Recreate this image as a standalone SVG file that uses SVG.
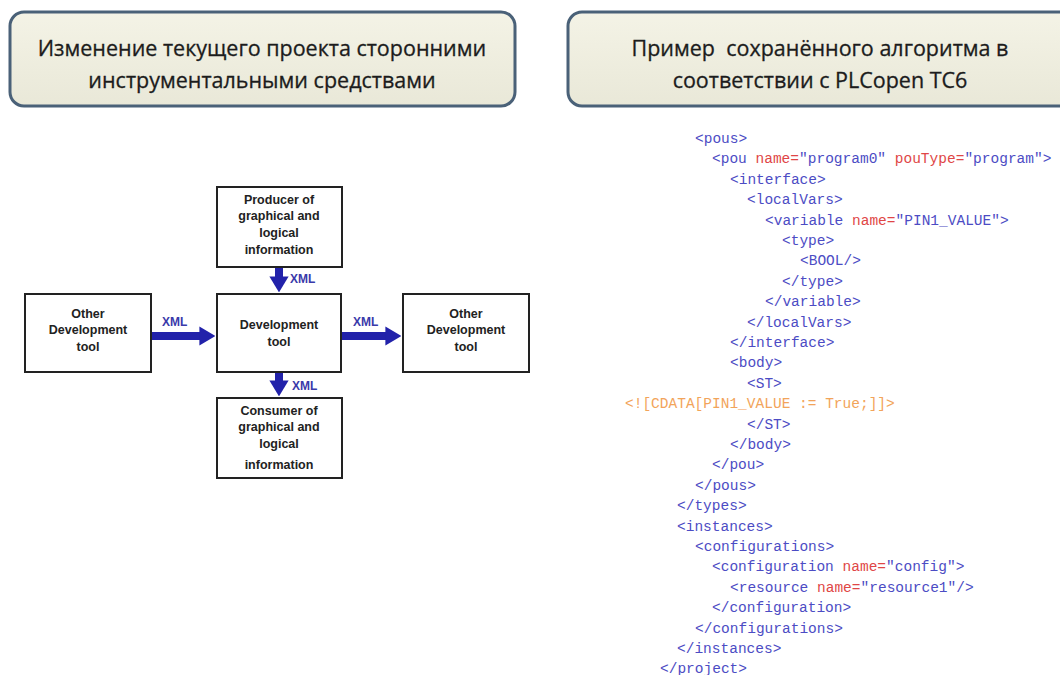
<svg xmlns="http://www.w3.org/2000/svg" width="1060" height="675" viewBox="0 0 1060 675">
<defs>
<linearGradient id="tg" x1="0" y1="0" x2="0" y2="1">
<stop offset="0" stop-color="#f4f3e6"/>
<stop offset="1" stop-color="#e9e8d8"/>
</linearGradient>
<marker id="ah" markerWidth="2" markerHeight="2.4" refX="0.2" refY="1.2" orient="auto" markerUnits="strokeWidth">
<path d="M0,0 L2,1.2 L0,2.4 Z" fill="#2222aa"/>
</marker>
</defs>
<style>
.title{fill:url(#tg);stroke:#4a6178;stroke-width:3}
.tt{font-family:"Open Sans","Liberation Sans",sans-serif;font-size:21.5px;fill:#1c1c1c;text-anchor:middle;stroke:#1c1c1c;stroke-width:0.3}
.box{fill:#fff;stroke:#222;stroke-width:2}
.bt{font-family:"Liberation Sans",Arial,sans-serif;font-weight:bold;font-size:12.5px;fill:#222;text-anchor:middle}
.arr{stroke:#2222aa;stroke-width:8;fill:none;marker-end:url(#ah)}
.xl{font-family:"Liberation Sans",Arial,sans-serif;font-weight:bold;font-size:12px;fill:#3a3aaa}
.code{font-family:"Liberation Mono","Courier New",monospace;font-size:14.5px;fill:#4c4cc4;white-space:pre}
.at{fill:#e04646}
.cd{fill:#f2a45a}
</style>
<rect width="1060" height="675" fill="#fff"/>
<g id="title-left">
<rect class="title" x="10" y="12" width="505" height="94" rx="14"/>
<text class="tt" x="262" y="56">Изменение текущего проекта сторонними</text>
<text class="tt" x="262" y="88">инструментальными средствами</text>
</g>
<g id="title-right">
<rect class="title" x="568" y="12" width="510" height="94" rx="14"/>
<text class="tt" x="820" y="56" xml:space="preserve">Пример  сохранённого алгоритма в</text>
<text class="tt" x="820" y="88">соответствии с PLCopen TC6</text>
</g>
<g id="connectors">
<line class="arr" x1="279" y1="267" x2="279" y2="278"/>
<line class="arr" x1="151" y1="336" x2="201" y2="336"/>
<line class="arr" x1="341" y1="336" x2="387" y2="336"/>
<line class="arr" x1="279" y1="372" x2="279" y2="382"/>
<text class="xl" x="290" y="283">XML</text>
<text class="xl" x="162" y="326">XML</text>
<text class="xl" x="353" y="326">XML</text>
<text class="xl" x="292" y="390">XML</text>
</g>
<g id="producer">
<rect class="box" x="217" y="187" width="125" height="80"/>
<text class="bt" x="279" y="204">Producer of</text>
<text class="bt" x="279" y="220">graphical and</text>
<text class="bt" x="279" y="237">logical</text>
<text class="bt" x="279" y="254">information</text>
</g>
<g id="other-left">
<rect class="box" x="25" y="294" width="126" height="78"/>
<text class="bt" x="88" y="318">Other</text>
<text class="bt" x="88" y="334">Development</text>
<text class="bt" x="88" y="351">tool</text>
</g>
<g id="dev-tool">
<rect class="box" x="217" y="294" width="124" height="78"/>
<text class="bt" x="279" y="329">Development</text>
<text class="bt" x="279" y="346">tool</text>
</g>
<g id="other-right">
<rect class="box" x="403" y="294" width="126" height="78"/>
<text class="bt" x="466" y="318">Other</text>
<text class="bt" x="466" y="334">Development</text>
<text class="bt" x="466" y="351">tool</text>
</g>
<g id="consumer">
<rect class="box" x="217" y="398" width="125" height="80"/>
<text class="bt" x="279" y="415">Consumer of</text>
<text class="bt" x="279" y="431">graphical and</text>
<text class="bt" x="279" y="448">logical</text>
<text class="bt" x="279" y="469">information</text>
</g>
<g id="code" class="code">
<text x="695" y="143">&lt;pous&gt;</text>
<text x="712" y="163">&lt;pou <tspan class="at">name=</tspan>"program0" <tspan class="at">pouType=</tspan>"program"&gt;</text>
<text x="730" y="184">&lt;interface&gt;</text>
<text x="747" y="204">&lt;localVars&gt;</text>
<text x="765" y="225">&lt;variable <tspan class="at">name=</tspan>"PIN1_VALUE"&gt;</text>
<text x="782" y="245">&lt;type&gt;</text>
<text x="800" y="265">&lt;BOOL/&gt;</text>
<text x="782" y="286">&lt;/type&gt;</text>
<text x="765" y="306">&lt;/variable&gt;</text>
<text x="747" y="327">&lt;/localVars&gt;</text>
<text x="730" y="347">&lt;/interface&gt;</text>
<text x="730" y="367">&lt;body&gt;</text>
<text x="747" y="388">&lt;ST&gt;</text>
<text x="625" y="408" class="cd">&lt;![CDATA[PIN1_VALUE := True;]]&gt;</text>
<text x="747" y="429">&lt;/ST&gt;</text>
<text x="730" y="449">&lt;/body&gt;</text>
<text x="712" y="469">&lt;/pou&gt;</text>
<text x="695" y="490">&lt;/pous&gt;</text>
<text x="677" y="510">&lt;/types&gt;</text>
<text x="677" y="531">&lt;instances&gt;</text>
<text x="695" y="551">&lt;configurations&gt;</text>
<text x="712" y="571">&lt;configuration <tspan class="at">name=</tspan>"config"&gt;</text>
<text x="730" y="592">&lt;resource <tspan class="at">name=</tspan>"resource1"/&gt;</text>
<text x="712" y="612">&lt;/configuration&gt;</text>
<text x="695" y="633">&lt;/configurations&gt;</text>
<text x="677" y="653">&lt;/instances&gt;</text>
<text x="660" y="673">&lt;/project&gt;</text>
</g>
</svg>
